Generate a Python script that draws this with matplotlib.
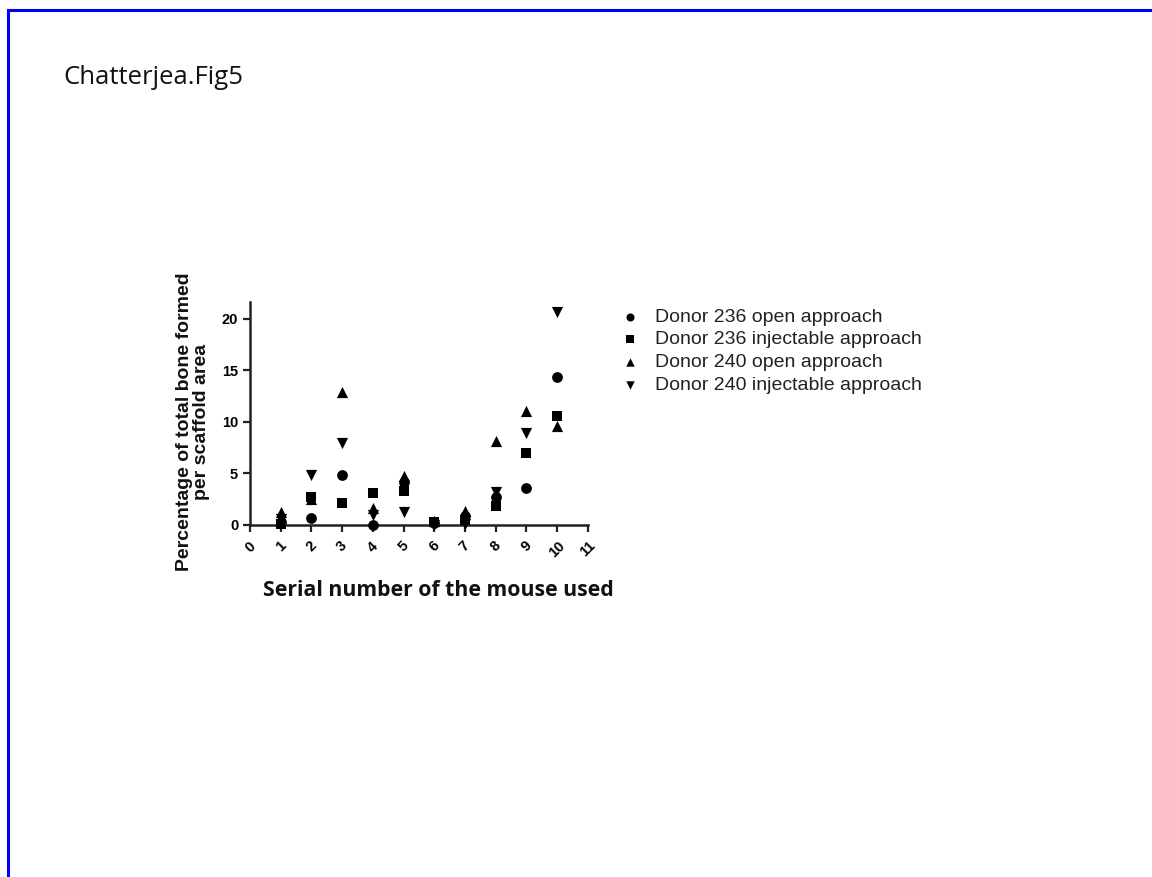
import matplotlib
matplotlib.use("Agg")
import matplotlib.pyplot as plt
from matplotlib.patches import Rectangle

mice = [1, 2, 3, 4, 5, 6, 7, 8, 9, 10]
d236_open = [0.3, 0.7, 4.8, 0.0, 4.2, 0.2, 0.9, 2.75, 3.6, 14.3]
d236_inject = [0.1, 2.75, 2.1, 3.1, 3.25, 0.3, 0.5, 1.8, 7.0, 10.6]
d240_open = [1.3, 2.5, 12.9, 1.6, 4.7, 0.4, 1.4, 8.1, 11.0, 9.55]
d240_inject = [0.6, 4.8, 7.9, 1.0, 1.3, 0.0, 0.1, 3.2, 8.9, 20.6]

series_labels = ["Donor 236 open approach", "Donor 236 injectable approach",
                 "Donor 240 open approach", "Donor 240 injectable approach"]
xticks = list(range(0, 12))
yticks = [0, 5, 10, 15, 20]

W, H = 1152, 877
fig = plt.figure(figsize=(W / 100, H / 100), dpi=100)
fig.patch.set_facecolor("white")

# blue page border
fig.patches.append(Rectangle((8 / W, -0.1), 1.2, 1 - 9.5 / H + 0.1,
                             transform=fig.transFigure, fill=False,
                             edgecolor="#0000ff", linewidth=2.2))

fig.text(63 / W, 1 - 77 / H, "Chatterjea.Fig5", fontsize=18.5,
         family="Open Sans", va="center", ha="left", color="#111111")

ax = fig.add_axes([250 / W, 1 - 525 / H, 337.7 / W, 223 / H])
markers = ["o", "s", "^", "v"]
sizes = [60, 55, 65, 65]
for vals, m, s, lab in zip([d236_open, d236_inject, d240_open, d240_inject],
                           markers, sizes, series_labels):
    ax.scatter(mice, vals, marker=m, s=s, color="black", label=lab,
               clip_on=False, zorder=3, linewidths=0)

ax.set_xlim(0, 11)
ax.set_ylim(0, 21.6)
ax.set_xticks(xticks)
ax.set_yticks(yticks)
for sp in ["top", "right"]:
    ax.spines[sp].set_visible(False)
for sp in ["left", "bottom"]:
    ax.spines[sp].set_linewidth(1.8)
    ax.spines[sp].set_color("#222222")
ax.tick_params(axis="both", direction="out", length=5, width=1.6, color="#222222")
ax.set_xticklabels([str(t) for t in xticks], rotation=45, ha="center",
                   va="top", fontsize=10.5, fontweight="bold",
                   family="Liberation Sans", rotation_mode="default")
ax.set_yticklabels([str(t) for t in yticks], fontsize=10.5, fontweight="bold",
                   family="Liberation Sans")
ax.tick_params(axis="x", pad=5)

fig.text(193 / W, 1 - 422 / H, "Percentage of total bone formed\nper scaffold area",
         rotation=90, ha="center", va="center", fontsize=14, fontweight="bold",
         family="Liberation Sans", linespacing=1.05, color="#111111")

fig.text(438 / W, 1 - 590 / H, "Serial number of the mouse used", ha="center",
         va="center", fontsize=15.3, fontweight="bold", family="Open Sans",
         color="#111111")

leg = ax.legend(loc="upper left", bbox_to_anchor=(622 / W, 1 - 308 / H),
                bbox_transform=fig.transFigure, frameon=False,
                prop={"family": "Liberation Sans", "size": 14},
                handletextpad=0.9, labelspacing=0.27, borderaxespad=0,
                borderpad=0, markerscale=0.75, handlelength=0.8)
for t in leg.get_texts():
    t.set_color("#222222")

fig.savefig("out.png", dpi=100)
